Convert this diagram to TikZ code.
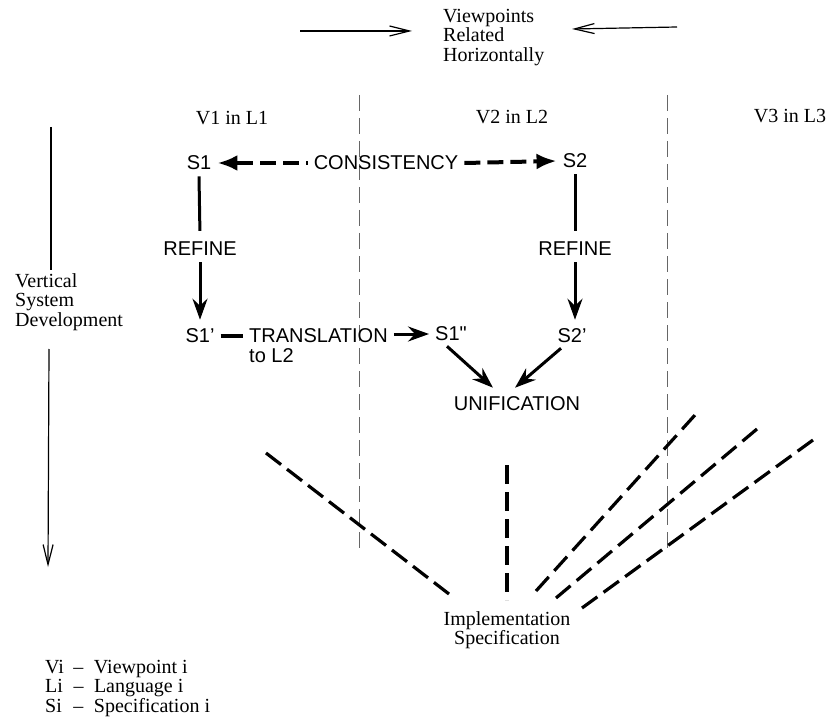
\documentclass[tikz,border=0pt]{standalone}
\usepackage{fontspec}
\setmainfont{Liberation Serif}
\newfontfamily\labelsans{Liberation Sans}
\usetikzlibrary{arrows.meta,calc}

\begin{document}
\begin{tikzpicture}[x=1pt,y=-1pt,
  serif/.style={font=\fontsize{20}{19.5}\selectfont, inner sep=0pt},
  lab/.style={font=\labelsans\fontsize{20}{20}\selectfont, inner sep=6pt},
  guide/.style={draw=black!60, line width=0.8pt, dash pattern=on 16pt off 7pt},
  axis/.style={line width=1.2pt, -{Straight Barb[length=20pt,width=10pt]}},
  plainline/.style={line width=3pt},
  flow/.style={line width=3pt, -{Stealth[length=21pt,width=15pt,inset=7pt]}},
  consarrow/.style={line width=4pt, dash pattern=on 16pt off 7pt,
    -{Latex[length=20pt,width=16pt]}},
  implline/.style={line width=3.2pt, dash pattern=on 19pt off #1},
  implline/.default=7.5pt,
]
\useasboundingbox (0,0) rectangle (830,722);

% horizontal relation between viewpoints
\node[serif, align=left, anchor=north west] (vrh) at (443,9)
  {Viewpoints\\Related\\Horizontally};
\coordinate (hl) at (300,31);
\coordinate (hlt) at (412,31);
\coordinate (hr) at (677,27);
\coordinate (hrt) at (572,29);
\draw[axis] (hl) -- (hlt);
\draw[axis] (hr) -- (hrt);

% vertical development axis
\node[serif, align=left, anchor=north west] (vsd) at (15,273)
  {Vertical\\System\\Development};
\coordinate (va) at (51,127);
\coordinate (vc) at (49,349);
\coordinate (vb) at (48,567);
\draw[line width=1.2pt, shorten >=3pt] (va) -- (va |- vsd.north);
\draw[axis] (vc) -- (vb);

% viewpoint columns
\node[serif, anchor=base] (v1) at (232,125) {V1 in L1};
\node[serif, anchor=base] (v2) at (512,124) {V2 in L2};
\node[serif, anchor=base] (v3) at (790,123) {V3 in L3};
\coordinate (g1a) at (359,95);
\coordinate (g1b) at (359,552);
\coordinate (g2a) at (667,95);
\coordinate (g2b) at (667,553);
\draw[guide] (g1a) -- (g1b);
\draw[guide] (g2a) -- (g2b);

% specifications
\node[lab] (s1)   at (199,163) {S1};
\node[lab] (cons) at (386,163) {CONSISTENCY};
\node[lab] (s2)   at (575,161) {S2};
\node[lab] (r1)   at (200,249) {REFINE};
\node[lab] (r2)   at (575,249) {REFINE};
\node[lab] (s1p)  at (200,336) {S1’};
\node[lab, align=left, anchor=north west] (trans) at (243,322)
  {TRANSLATION\\to L2};
\node[lab] (s1pp) at (451,334) {S1"};
\node[lab] (s2p)  at (572,336) {S2’};
\node[lab] (unif) at (517,404) {UNIFICATION};

\draw[consarrow, dash phase=14pt] (cons.west) -- (s1.east);
\draw[consarrow] (cons.east) -- (s2.west);

\draw[plainline, shorten >=5pt] (s1.south) -- (r1.north);
\draw[flow, shorten >=3pt] (r1.south) -- (s1p.north);
\draw[plainline, shorten >=5pt] (s2.south) -- (r2.north);
\draw[flow, shorten >=3pt] (r2.south) -- (r2.south |- s2p.north);

\draw[plainline, line width=3.6pt] (s1p.east) -- (s1p.east -| trans.west);
\draw[flow] (trans.east |- s1pp.west) -- (s1pp.west);

\draw[flow] ($(s1pp.south)+(-4,-1)$) -- ($(unif.north)+(-24,-3)$);
\draw[flow] ($(s2p.south)+(-11,-1)$) -- ($(unif.north)+(-2,-3)$);

% implementation specification
\node[serif, align=center, anchor=north] (impl) at (507,611)
  {Implementation\\Specification};
\coordinate (d1a) at (266,453);
\coordinate (d1b) at (449,594);
\coordinate (d2a) at (507,465);
\coordinate (d2b) at (507,600);
\coordinate (d3a) at (695,415);
\coordinate (d3b) at (536,591);
\coordinate (d4a) at (757,429);
\coordinate (d4b) at (556,598);
\coordinate (d5a) at (813,440);
\coordinate (d5b) at (582,608);
\draw[implline=7.5pt] (d1a) -- (d1b);
\draw[implline=8pt] (d2a) -- (d2b);
\draw[implline=8.25pt] (d3b) -- (d3a);
\draw[implline=8.07pt] (d4b) -- (d4a);
\draw[implline=7.66pt] (d5b) -- (d5a);

% legend
\node[serif, anchor=north west] (legend) at (45,659.35)
  {\begin{tabular}{@{}l@{\hspace{9.5pt}}c@{\hspace{10.5pt}}l@{}}
    Vi & -- & Viewpoint i\\
    Li & -- & Language i\\
    Si & -- & Specification i
  \end{tabular}};
\end{tikzpicture}
\end{document}
